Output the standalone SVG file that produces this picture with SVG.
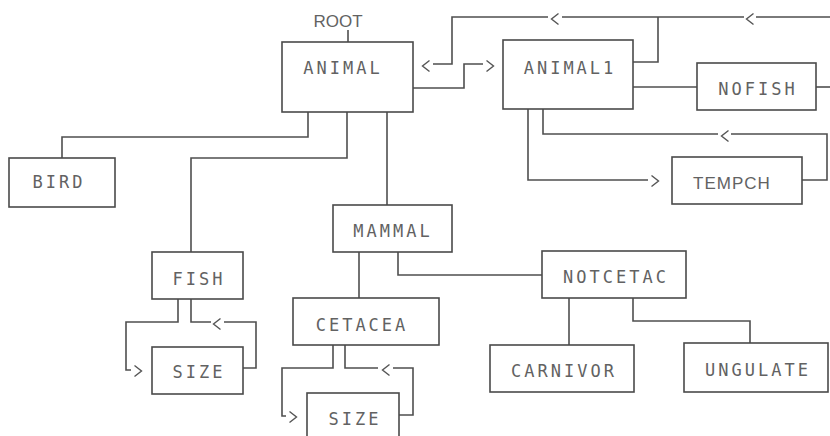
<svg xmlns="http://www.w3.org/2000/svg" xmlns:xlink="http://www.w3.org/1999/xlink" width="830" height="436" viewBox="0 0 830 436">
<style>
.box{fill:#fff;stroke:#4a4a4a;stroke-width:1.6}
.ln{fill:none;stroke:#4f4f4f;stroke-width:1.6}
.ch{fill:none;stroke:#555;stroke-width:1.4}
.lbl{font-family:"DejaVu Sans Mono","Liberation Mono",monospace;font-size:17px;letter-spacing:3px;fill:#626262;text-anchor:middle}
.sans{font-family:"Liberation Sans",Arial,sans-serif;font-size:17px;fill:#626262;text-anchor:middle}
</style>
<defs>
<path id="chL" class="ch" d="M3.5,-5.5 L-3.5,0 L3.5,5.5"/>
<path id="chR" class="ch" d="M-3.5,-5.5 L3.5,0 L-3.5,5.5"/>
</defs>
<rect width="830" height="436" fill="#fff"/>
<g id="connectors">
<path class="ln" d="M348,30 V42"/>
<path class="ln" d="M830,17 H756 M744,17 H562 M548,17 H452 V64 H433"/>
<path class="ln" d="M633,62 H658 V17"/>
<path class="ln" d="M413,88 H464 V64 H483"/>
<path class="ln" d="M633,87 H697"/>
<path class="ln" d="M816,87 H830"/>
<path class="ln" d="M528,109 V180 H648"/>
<path class="ln" d="M802,180 H827 V134 H731 M718,134 H543 V109"/>
<path class="ln" d="M308,112 V137 H62 V158"/>
<path class="ln" d="M347,112 V158 H191 V252"/>
<path class="ln" d="M387,112 V205"/>
<path class="ln" d="M178,299 V322 H126 V370 H131"/>
<path class="ln" d="M191,299 V322 H211 M224,322 H256 V368 H243"/>
<path class="ln" d="M359,252 V298"/>
<path class="ln" d="M398,252 V275 H542"/>
<path class="ln" d="M333,345 V368 H282 V416 H286"/>
<path class="ln" d="M345,345 V368 H378 M393,368 H413 V415 H399"/>
<path class="ln" d="M569,298 V345"/>
<path class="ln" d="M633,298 V321 H750 V343"/>
<use xlink:href="#chL" x="750" y="19"/>
<use xlink:href="#chL" x="555" y="19"/>
<use xlink:href="#chL" x="426" y="66"/>
<use xlink:href="#chR" x="490" y="66"/>
<use xlink:href="#chR" x="655" y="181"/>
<use xlink:href="#chL" x="725" y="136"/>
<use xlink:href="#chR" x="138" y="371"/>
<use xlink:href="#chL" x="217" y="324"/>
<use xlink:href="#chR" x="293" y="417"/>
<use xlink:href="#chL" x="386" y="370"/>
</g>
<g id="root"><text class="sans" x="338" y="27" font-size="16">ROOT</text></g>
<g id="animal"><rect class="box" x="282" y="42" width="131" height="70"/><text class="lbl" x="343" y="74">ANIMAL</text></g>
<g id="animal1"><rect class="box" x="503" y="40" width="130" height="69"/><text class="lbl" x="570" y="74">ANIMAL1</text></g>
<g id="nofish"><rect class="box" x="697" y="63" width="119" height="47"/><text class="lbl" x="758" y="95">NOFISH</text></g>
<g id="tempch"><rect class="box" x="672" y="157" width="130" height="47"/><text class="sans" x="732" y="189" letter-spacing="1">TEMPCH</text></g>
<g id="bird"><rect class="box" x="9" y="158" width="106" height="49"/><text class="lbl" x="59" y="188">BIRD</text></g>
<g id="fish"><rect class="box" x="152" y="252" width="91" height="47"/><text class="lbl" x="199" y="285">FISH</text></g>
<g id="size1"><rect class="box" x="152" y="347" width="91" height="47"/><text class="lbl" x="199" y="378">SIZE</text></g>
<g id="mammal"><rect class="box" x="333" y="205" width="119" height="47"/><text class="lbl" x="393" y="237">MAMMAL</text></g>
<g id="cetacea"><rect class="box" x="293" y="298" width="146" height="47"/><text class="lbl" x="362" y="331">CETACEA</text></g>
<g id="size2"><rect class="box" x="307" y="393" width="92" height="52"/><text class="lbl" x="355" y="425">SIZE</text></g>
<g id="notcetac"><rect class="box" x="542" y="251" width="144" height="47"/><text class="lbl" x="616" y="283">NOTCETAC</text></g>
<g id="carnivor"><rect class="box" x="490" y="345" width="144" height="47"/><text class="lbl" x="564" y="377">CARNIVOR</text></g>
<g id="ungulate"><rect class="box" x="684" y="343" width="144" height="49"/><text class="lbl" x="758" y="376">UNGULATE</text></g>
</svg>
